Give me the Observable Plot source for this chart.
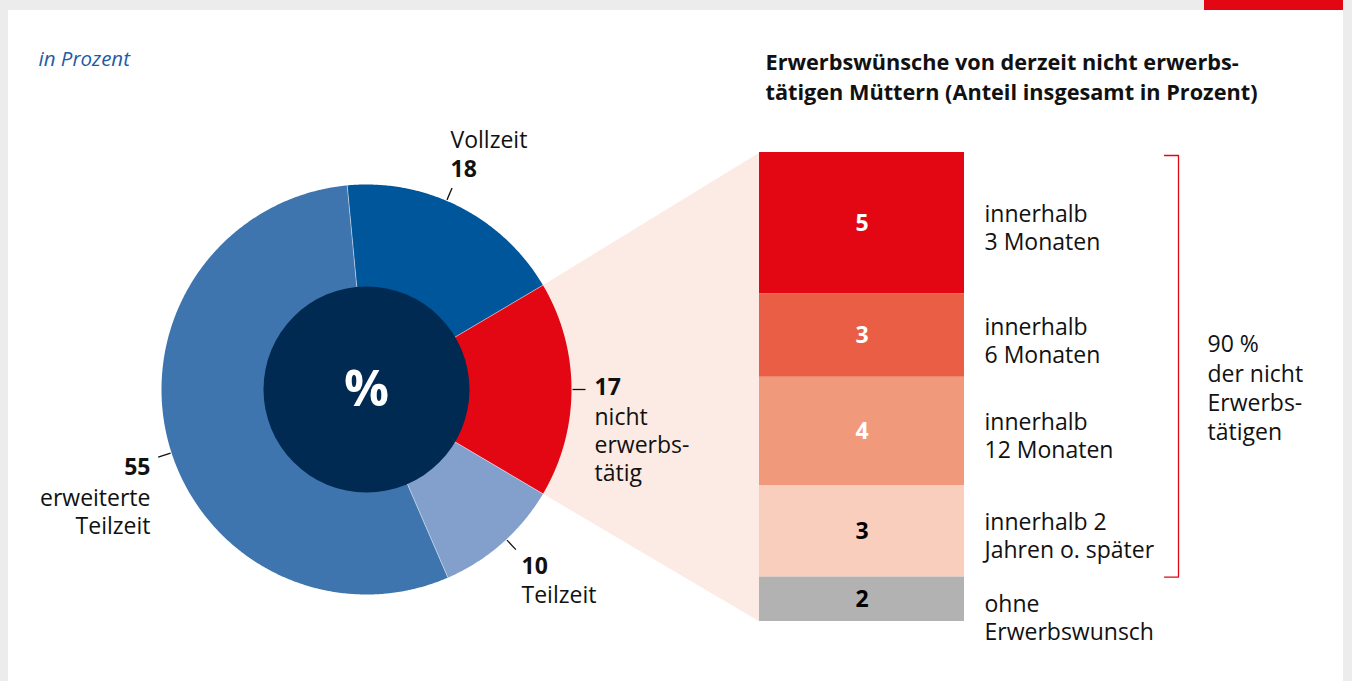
<!DOCTYPE html>
<html><head><meta charset="utf-8">
<script src="https://cdn.jsdelivr.net/npm/d3@7"></script>
<script src="https://cdn.jsdelivr.net/npm/@observablehq/plot@0.6"></script>
<style>
html,body{margin:0;padding:0;background:#ececec;width:1352px;height:681px;overflow:hidden;}
#panel{position:absolute;left:8px;top:10px;width:1335px;height:671px;background:#fff;}
#redbar{position:absolute;left:1204px;top:0;width:139px;height:10px;background:#e30613;}
#chart{position:absolute;left:0;top:0;}
</style></head><body>
<div id="panel"></div><div id="redbar"></div><div id="chart"></div>
<script>
// ---------- data ----------
const donutCategories = ["Vollzeit", "nicht erwerbstätig", "Teilzeit", "erweiterte Teilzeit"];
const donutValues = [18, 17, 10, 55];
const donutValueLabels = ["18", "17", "10", "55"];
const donutNames = ["Vollzeit", "nicht\nerwerbs-\ntätig", "Teilzeit", "erweiterte\nTeilzeit"];

const barCategories = ["innerhalb\n3 Monaten", "innerhalb\n6 Monaten", "innerhalb\n12 Monaten", "innerhalb 2\nJahren o. später", "ohne\nErwerbswunsch"];
const barValues = [5.1, 3.0, 3.9, 3.3, 1.6];
const barValueLabels = ["5", "3", "4", "3", "2"];

const bracketLabel = "90 %\nder nicht\nErwerbs-\ntätigen";
const centerSymbol = "%";
const unitNote = "in Prozent";
const titleText = "Erwerbswünsche von derzeit nicht erwerbs-\ntätigen Müttern (Anteil insgesamt in Prozent)";

// ---------- layout & style ----------
const W = 1352, H = 681;
const cx = 366, cy = 389, R = 205, R0 = 103;
const startDeg = -5.4;
const bar = {x1: 759, x2: 964, top: 152, bottom: 621};
const donutColors = ["#00569a", "#e30613", "#839fcb", "#3e75ae"];
const barColors = ["#e30613", "#e95e45", "#f0997b", "#f9cebd", "#b2b2b2"];
const barTextColors = ["#ffffff", "#ffffff", "#ffffff", "#000000", "#000000"];
const labelLayout = {
  "Vollzeit": {x: 450, nameY: 139, valueY: 169, leader: 23},
  "nicht erwerbstätig": {x: 594, valueY: 387, nameY: 444, leader: 90},
  "Teilzeit": {x: 521, valueY: 566, nameY: 594, leader: 137},
  "erweiterte Teilzeit": {x: 150, valueY: 467, nameY: 511, leader: 252, end: true}
};
const FS = 23, LH = 28;

const total = d3.sum(barValues);
const k = (bar.bottom - bar.top) / total;
const py = p => (p - bar.top) / k; // pixel row -> y units of the bar scale

const dTotal = d3.sum(donutValues);
let acc = 0;
const slices = donutValues.map((v, i) => {
  const a0 = startDeg + acc / dTotal * 360; acc += v;
  const a1 = startDeg + acc / dTotal * 360;
  return {i, cat: donutCategories[i], v, a0, a1, value: donutValueLabels[i], name: donutNames[i], ...labelLayout[donutCategories[i]]};
});
function pt(deg, rad) { const t = deg * Math.PI / 180; return {x: cx + rad * Math.sin(t), y: py(cy - rad * Math.cos(t))}; }
function ring(s) {
  const pts = [];
  for (let a = s.a0; a < s.a1; a += 0.5) pts.push(pt(a, R));
  pts.push(pt(s.a1, R));
  for (let a = s.a1; a > s.a0; a -= 0.5) pts.push(pt(a, R0 - 2));
  pts.push(pt(s.a0, R0 - 2));
  return pts;
}
const red = slices[1];
const wedge = [ {x: cx, y: py(cy)}, pt(red.a0, R - 1), {x: bar.x1, y: 0}, {x: bar.x1, y: total}, pt(red.a1, R - 1) ];

const cum = d3.cumsum(barValues);
const barRows = barValues.map((v, i) => ({i, v, y1: cum[i] - v, y2: cum[i], name: barCategories[i], label: barValueLabels[i]}));
const bracketEnd = cum[3];

const marks = [];
marks.push(Plot.line(wedge, {x: "x", y: "y", fill: "#fcebe4", stroke: "none"}));
slices.forEach(s => marks.push(Plot.line(ring(s), {x: "x", y: "y", fill: donutColors[s.i], stroke: "none"})));
marks.push(Plot.link(slices, {x1: s => pt(s.a0, R0).x, y1: s => pt(s.a0, R0).y, x2: s => pt(s.a0, R).x, y2: s => pt(s.a0, R).y, stroke: "white", strokeWidth: 0.8, strokeOpacity: 0.6}));
marks.push(Plot.dot([centerSymbol], {x: () => cx, y: () => py(cy), r: R0, fill: "#012a52", stroke: "none"}));
marks.push(Plot.text([centerSymbol], {x: () => cx, y: () => py(cy), text: d => d, fill: "white", fontSize: 50, fontWeight: "bold"}));
// leaders
marks.push(Plot.link(slices, {x1: s => pt(s.leader, R + 1).x, y1: s => pt(s.leader, R + 1).y, x2: s => pt(s.leader, R + 14).x, y2: s => pt(s.leader, R + 14).y, stroke: "#111", strokeWidth: 1.3}));
// donut labels
const startL = slices.filter(s => !s.end), endL = slices.filter(s => s.end);
marks.push(Plot.text(startL, {x: "x", y: s => py(s.valueY), text: "value", textAnchor: "start", fontWeight: "bold", fontSize: FS, fill: "#111"}));
marks.push(Plot.text(startL, {x: "x", y: s => py(s.nameY), text: "name", textAnchor: "start", fontSize: FS, lineHeight: LH / FS, fill: "#111"}));
marks.push(Plot.text(endL, {x: "x", y: s => py(s.valueY), text: "value", textAnchor: "end", fontWeight: "bold", fontSize: FS, fill: "#111"}));
marks.push(Plot.text(endL, {x: "x", y: s => py(s.nameY), text: "name", textAnchor: "end", fontSize: FS, lineHeight: LH / FS, fill: "#111"}));
// stacked bar
marks.push(Plot.rect(barRows, {x1: () => bar.x1, x2: () => bar.x2, y1: "y1", y2: "y2", fill: d => barColors[d.i]}));
marks.push(Plot.text(barRows, {x: () => (bar.x1 + bar.x2) / 2, y: d => (d.y1 + d.y2) / 2, text: "label", fill: d => barTextColors[d.i], fontWeight: "bold", fontSize: FS}));
marks.push(Plot.text(barRows.slice(0, 4), {x: () => 984, y: d => (d.y1 + d.y2) / 2, text: "name", textAnchor: "start", fontSize: FS, lineHeight: LH / FS, dy: 4, fill: "#111"}));
marks.push(Plot.text(barRows.slice(4), {x: () => 984, y: d => (d.y1 + d.y2) / 2, text: "name", textAnchor: "start", fontSize: FS, lineHeight: LH / FS, dy: 18, fill: "#111"}));
// bracket
marks.push(Plot.line([{x: 1164, y: py(bar.top + 3)}, {x: 1178, y: py(bar.top + 3)}, {x: 1178, y: bracketEnd}, {x: 1164, y: bracketEnd}], {x: "x", y: "y", stroke: "#e30613", strokeWidth: 1.3}));
marks.push(Plot.text([bracketLabel], {x: () => 1207, y: () => bracketEnd / 2, text: d => d, textAnchor: "start", fontSize: FS, lineHeight: 29.5 / FS, dy: 22, fill: "#111"}));
// headings
marks.push(Plot.text([unitNote], {x: () => 38, y: () => py(59), text: d => d, textAnchor: "start", fontSize: 20.5, fontStyle: "italic", fill: "#1d5ca6"}));
marks.push(Plot.text([titleText], {x: () => 765, y: () => py(74.5), text: d => d, textAnchor: "start", fontSize: 21.7, fontWeight: "bold", lineHeight: 30 / 21.7, fill: "#111"}));

const chart = Plot.plot({
  width: W, height: H, margin: 0,
  x: {domain: [0, W], range: [0, W], axis: null},
  y: {domain: [0, total], range: [bar.top, bar.bottom], axis: null},
  color: {type: "identity"},
  style: {background: "transparent", fontFamily: "'Open Sans', sans-serif", overflow: "visible"},
  marks
});
document.getElementById("chart").appendChild(chart);
</script>
</body></html>
